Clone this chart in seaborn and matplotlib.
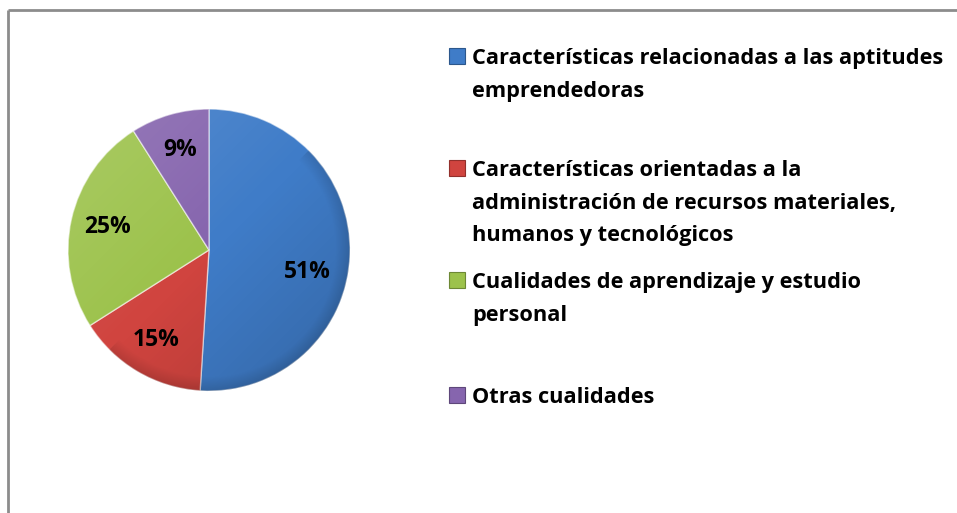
import numpy as np
import matplotlib
matplotlib.use("Agg")
import matplotlib.pyplot as plt
import seaborn as sns
from matplotlib.patches import Rectangle, Circle
from matplotlib.lines import Line2D

# Chart data
categories = [
    "Características relacionadas a las aptitudes\nemprendedoras",
    "Características orientadas a la\nadministración de recursos materiales,\nhumanos y tecnológicos",
    "Cualidades de aprendizaje y estudio\npersonal",
    "Otras cualidades",
]
shares = [51, 15, 25, 9]
colors = ["#3F7CC8", "#D0443F", "#9CC24B", "#8665AE"]

sns.set_theme(style="white")
plt.rcParams["font.family"] = ["Open Sans", "DejaVu Sans"]

W, H = 957, 513
fig = plt.figure(figsize=(W / 100, H / 100), dpi=100)
fig.patch.set_facecolor("white")

# Pie placement (pixels)
cx, cy, r = 209, 250, 141
ax = fig.add_axes([(cx - r) / W, 1 - (cy + r) / H, 2 * r / W, 2 * r / H])

wedges, _, autotexts = ax.pie(
    shares,
    colors=colors,
    startangle=90,
    counterclock=False,
    autopct=lambda p: f"{p:.0f}%",
    pctdistance=0.74,
    wedgeprops=dict(edgecolor=(1, 1, 1, 0.55), linewidth=1.0),
    textprops=dict(fontsize=16.5, fontweight="bold", color="black"),
)
ax.set_xlim(-1, 1)
ax.set_ylim(-1, 1)

# the large slice's label sits a little lower inside the slice
x0, y0 = autotexts[0].get_position()
autotexts[0].set_position((x0 - 0.04, y0 - 0.13))
for t in autotexts:
    t.set_zorder(5)

# soft bevel shading over the pie
n = 400
g = np.linspace(-1, 1, n)
X, Y = np.meshgrid(g, g[::-1])
R = np.sqrt(X ** 2 + Y ** 2)
shade = np.zeros((n, n, 4))
light = np.clip(0.10 * (Y - X) / 1.4, 0, None)
dark = np.clip(0.12 * (X - Y) / 1.4, 0, None) + np.clip((R - 0.9) / 0.1, 0, 1) * 0.12
shade[..., :3] = np.where((light > 0)[..., None], 1.0, 0.0)
shade[..., 3] = np.where(light > 0, light, dark)
im = ax.imshow(shade, extent=(-1, 1, -1, 1), zorder=3, interpolation="bilinear")
im.set_clip_path(Circle((0, 0), 1.0, transform=ax.transData))
ax.set_xlim(-1, 1)
ax.set_ylim(-1, 1)
ax.set_axis_off()

# Legend: square marker + bold text, first-line baselines in pixels
legend_x_marker, legend_x_text = 449, 472
first_baselines = [64, 176, 288, 403]
line_pitch = 32.5
for wedge, label, yb in zip(wedges, categories, first_baselines):
    fc = wedge.get_facecolor()
    fig.add_artist(Rectangle((legend_x_marker / W, 1 - yb / H), 16 / W, 16 / H,
                             transform=fig.transFigure, facecolor=fc,
                             edgecolor=tuple(np.array(fc[:3]) * 0.7), linewidth=0.8))
    for i, line in enumerate(label.split("\n")):
        fig.text(legend_x_text / W, 1 - (yb + i * line_pitch) / H, line,
                 fontsize=15.7, fontweight="bold", color="black",
                 ha="left", va="baseline")

# Chart area frame (top and left edges visible)
frame = dict(color="#8C8C8C", linewidth=2.0, solid_capstyle="butt")
fig.add_artist(Line2D([8 / W, 1.0], [1 - 10 / H, 1 - 10 / H], transform=fig.transFigure, **frame))
fig.add_artist(Line2D([8 / W, 8 / W], [1 - 10 / H, 0.0], transform=fig.transFigure, **frame))

fig.savefig("out.png", dpi=100, facecolor="white")
